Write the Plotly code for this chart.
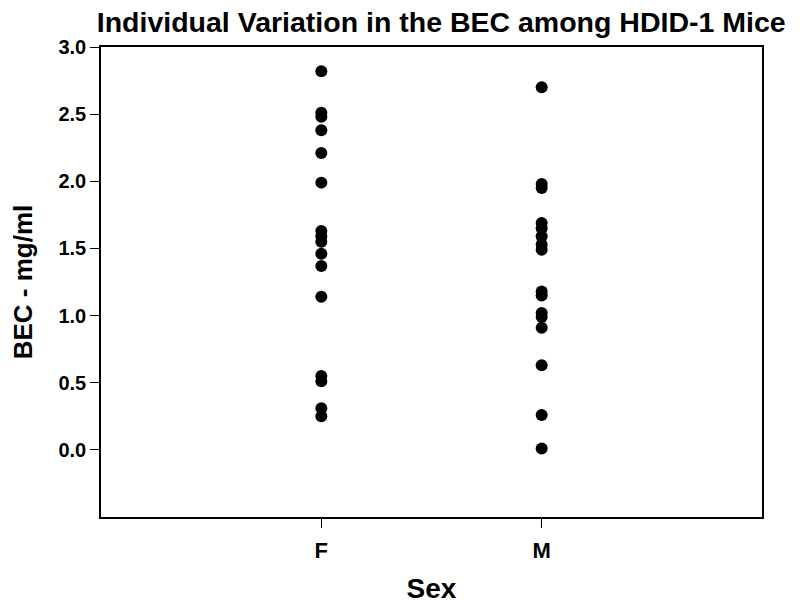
import plotly.graph_objects as go

sex_f = ["F"] * 16
bec_f = [2.82, 2.51, 2.48, 2.38, 2.21, 1.99, 1.63, 1.59, 1.55, 1.46, 1.37, 1.14, 0.55, 0.51, 0.31, 0.25]
sex_m = ["M"] * 16
bec_m = [2.70, 1.98, 1.95, 1.69, 1.65, 1.59, 1.53, 1.49, 1.18, 1.15, 1.02, 0.99, 0.91, 0.63, 0.26, 0.01]
categories = ["F", "M"]
y_ticks = [0.0, 0.5, 1.0, 1.5, 2.0, 2.5, 3.0]

FONT = "Liberation Sans"

fig = go.Figure()
fig.add_trace(go.Scatter(x=sex_f + sex_m, y=bec_f + bec_m, mode="markers",
                         marker=dict(color="black", size=12), showlegend=False))

fig.update_layout(
    width=800, height=606,
    paper_bgcolor="white", plot_bgcolor="white",
    margin=dict(l=93, r=46, t=39, b=97, autoexpand=False),
    title=dict(text="<b>Individual Variation in the BEC among HDID-1 Mice</b>",
               font=dict(family=FONT, size=28.5, color="black"),
               x=0.5415, xref="container", xanchor="center",
               y=0.961, yref="container", yanchor="bottom"),
    font=dict(family=FONT, color="black"),
)
fig.update_xaxes(type="category", categoryorder="array", categoryarray=categories,
                 range=[-1, 2], showline=True, mirror=True, linecolor="black", linewidth=1.5,
                 ticks="outside", ticklen=9, tickwidth=1.2, tickcolor="black",
                 showgrid=False, zeroline=False, automargin=False, ticklabelstandoff=4,
                 tickfont=dict(family=FONT, size=22, color="black"),
                 title=dict(text="<b>Sex</b>", font=dict(family=FONT, size=28, color="black"), standoff=16))
fig.update_yaxes(range=[-0.5, 3.0], tickvals=y_ticks, ticktext=[f"<b>{v:.1f}</b>" for v in y_ticks],
                 showline=True, mirror=True, linecolor="black", linewidth=1.5,
                 ticks="outside", ticklen=9, tickwidth=1.2, tickcolor="black",
                 showgrid=False, zeroline=False, automargin=False,
                 tickfont=dict(family=FONT, size=20, color="black"),
                 title=dict(text="<b>BEC - mg/ml</b>", font=dict(family=FONT, size=26, color="black"), standoff=19))
fig.update_xaxes(ticktext=[f"<b>{c}</b>" for c in categories], tickvals=categories)

fig.write_html("out.html")
